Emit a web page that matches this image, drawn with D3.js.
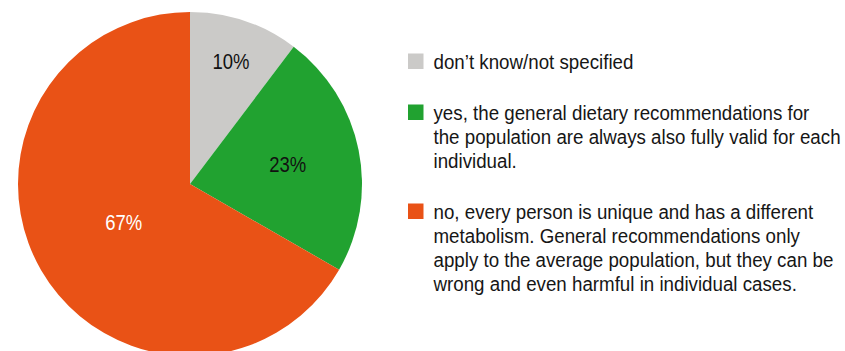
<!DOCTYPE html>
<html><head><meta charset="utf-8">
<script src="https://cdn.jsdelivr.net/npm/d3@7"></script>
<style>body{margin:0;background:#fff}svg{display:block}text{font-family:"Liberation Sans",Arial,Helvetica,sans-serif}</style>
</head><body><svg id="chart" width="845" height="351"></svg>
<script>
// ---- data ----
const categories = ["don’t know/not specified", "yes", "no"];
const values = [10.3, 23.0, 66.7];
const valueLabels = ["10%", "23%", "67%"];
const legendLines = [
  ["don’t know/not specified"],
  ["yes, the general dietary recommendations for",
   "the population are always also fully valid for each",
   "individual."],
  ["no, every person is unique and has a different",
   "metabolism. General recommendations only",
   "apply to the average population, but they can be",
   "wrong and even harmful in individual cases."]
];
const colors = ["#cbcac8", "#21a230", "#e95216"];
const labelColors = ["#111111", "#111111", "#ffffff"];
const labelRadiusFrac = [0.75, 0.58, 0.445];

// ---- layout ----
const W = 845, H = 351;
const cx = 190, cy = 184, R = 172;
const svg = d3.select("#chart");

const pie = d3.pie().sort(null).value(d => d);
const arcs = pie(values);
const arc = d3.arc().innerRadius(0).outerRadius(R);

const g = svg.append("g").attr("transform", `translate(${cx},${cy})`);
g.selectAll("path.slice").data(arcs).join("path")
  .attr("class", "slice")
  .attr("d", arc)
  .attr("fill", (d, i) => colors[i]);

g.selectAll("text.val").data(arcs).join("text")
  .attr("class", "val")
  .attr("transform", (d, i) => {
    const a = (d.startAngle + d.endAngle) / 2;
    const r = R * labelRadiusFrac[i];
    return `translate(${r * Math.sin(a)},${-r * Math.cos(a)}) scale(1,1.15)`;
  })
  .attr("text-anchor", "middle")
  .attr("dy", "0.36em")
  .attr("font-size", "18.5px")
  .attr("fill", (d, i) => labelColors[i])
  .text((d, i) => valueLabels[i]);

// ---- legend ----
const legX = 408, textX = 433.5, firstBaseline = 69, lineH = 24, gap = 27, sq = 15.5;
let y = firstBaseline;
const leg = svg.append("g");
categories.forEach((c, i) => {
  const item = leg.append("g");
  item.append("rect")
    .attr("x", legX).attr("y", y - 15.5)
    .attr("width", sq).attr("height", sq)
    .attr("fill", colors[i]);
  legendLines[i].forEach((ln, j) => {
    item.append("text")
      .attr("transform", `translate(${textX},${y + j * lineH}) scale(1,1.1)`)
      .attr("font-size", "18.75px")
      .attr("fill", "#161616")
      .text(ln);
  });
  y += legendLines[i].length * lineH + gap;
});
</script></body></html>
